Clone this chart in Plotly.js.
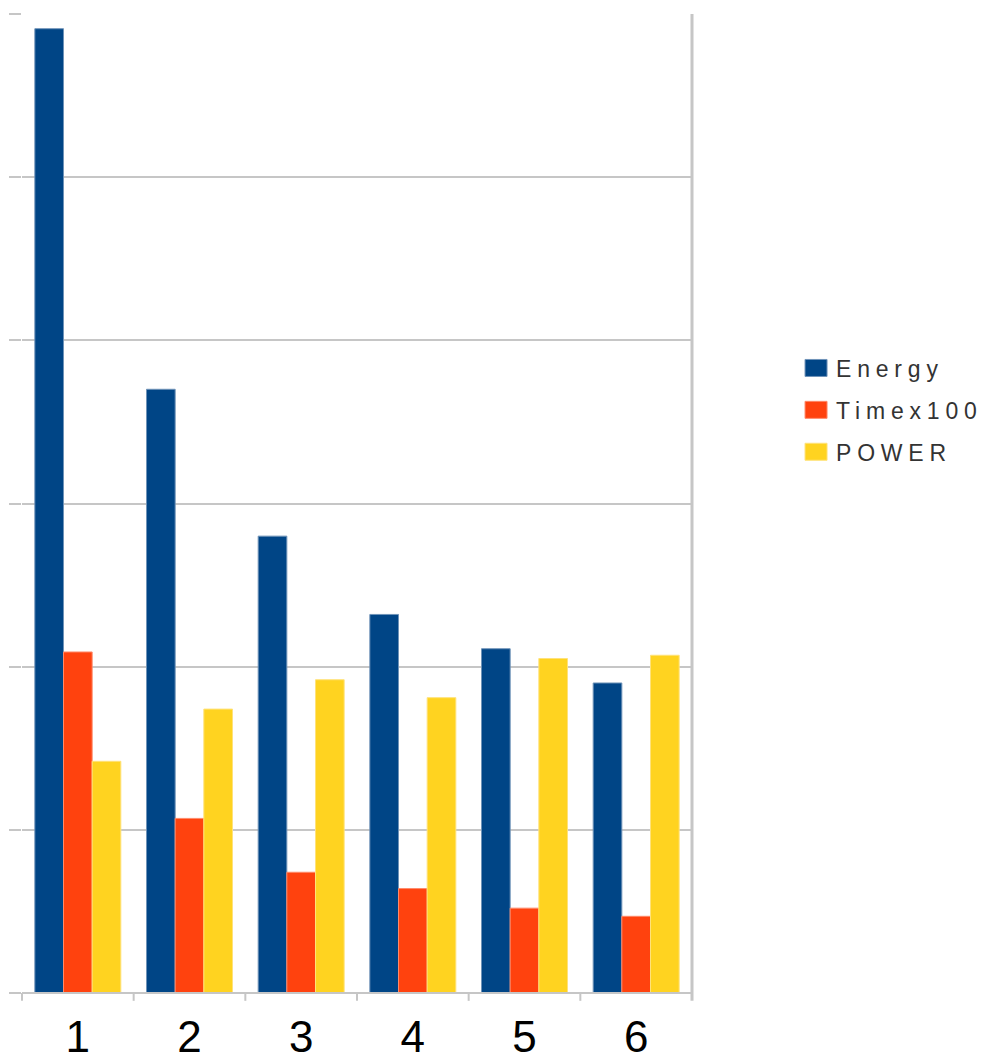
<!DOCTYPE html>
<html>
<head>
<meta charset="utf-8">
<script src="https://cdn.plot.ly/plotly-3.0.1.min.js"></script>
<style>
html,body{margin:0;padding:0;background:#fff;}
#chart{width:983px;height:1060px;}
.legendtext{letter-spacing:5.8px;}
</style>
</head>
<body>
<div id="chart"></div>
<script>
const categories = ["1", "2", "3", "4", "5", "6"];
const energy = [5.91, 3.70, 2.80, 2.32, 2.11, 1.90];
const timex100 = [2.09, 1.07, 0.74, 0.64, 0.52, 0.47];
const power = [1.42, 1.74, 1.92, 1.81, 2.05, 2.07];

const traces = [
  {type: 'bar', name: 'Energy', legendgroup: 'a', x: categories, y: energy, marker: {color: '#004586', line: {color: '#6f93b8', width: 1}}},
  {type: 'bar', name: 'Timex100', legendgroup: 'b', x: categories, y: timex100, marker: {color: '#ff420e', line: {color: '#ff8a6a', width: 1}}},
  {type: 'bar', name: 'POWER', legendgroup: 'c', x: categories, y: power, marker: {color: '#ffd320', line: {color: '#ffe27a', width: 1}}}
];

const layout = {
  width: 983, height: 1060,
  margin: {l: 22, r: 291, t: 14, b: 67},
  paper_bgcolor: '#ffffff', plot_bgcolor: '#ffffff',
  barmode: 'group', bargap: 0.23, bargroupgap: 0,
  font: {family: 'Liberation Sans, Arial, sans-serif', color: '#000'},
  xaxis: {
    type: 'category', showgrid: false, zeroline: false,
    showline: false,
    ticks: '', tickfont: {size: 44, color: '#000'},
    ticklabelstandoff: 14,
    automargin: false
  },
  yaxis: {
    range: [0, 6], dtick: 1, showticklabels: false,
    showgrid: true, gridcolor: '#c6c6c6', gridwidth: 2,
    ticks: 'outside', ticklen: 12, tickcolor: '#c6c6c6', tickwidth: 2,
    zeroline: false, showline: false, automargin: false
  },
  legend: {
    xref: 'container', yref: 'container',
    x: 0.8098, y: 0.6132, xanchor: 'left', yanchor: 'middle',
    font: {size: 23, color: '#333'}, traceorder: 'grouped', tracegroupgap: 9, itemwidth: 30
  },
  shapes: [
    {type: 'line', xref: 'paper', yref: 'paper', x0: 1, x1: 1, y0: -0.008, y1: 1, line: {color: '#c6c6c6', width: 3}},
    {type: 'line', xref: 'paper', yref: 'paper', x0: 0, x1: 1, y0: 0, y1: 0, line: {color: '#c6c6c6', width: 2}}
  ].concat(categories.map((c, i) => ({
    type: 'line', xref: 'paper', yref: 'paper', x0: i / categories.length, x1: i / categories.length,
    y0: -0.008, y1: 0, line: {color: '#c6c6c6', width: 2}
  })))
};

Plotly.newPlot('chart', traces, layout, {displayModeBar: false, staticPlot: true}).then(function (gd) {
  gd.querySelectorAll('.legendpoints path').forEach(function (p) {
    p.setAttribute('d', 'M11,8.5H-11V-8.5H11Z');
  });
});
</script>
</body>
</html>
